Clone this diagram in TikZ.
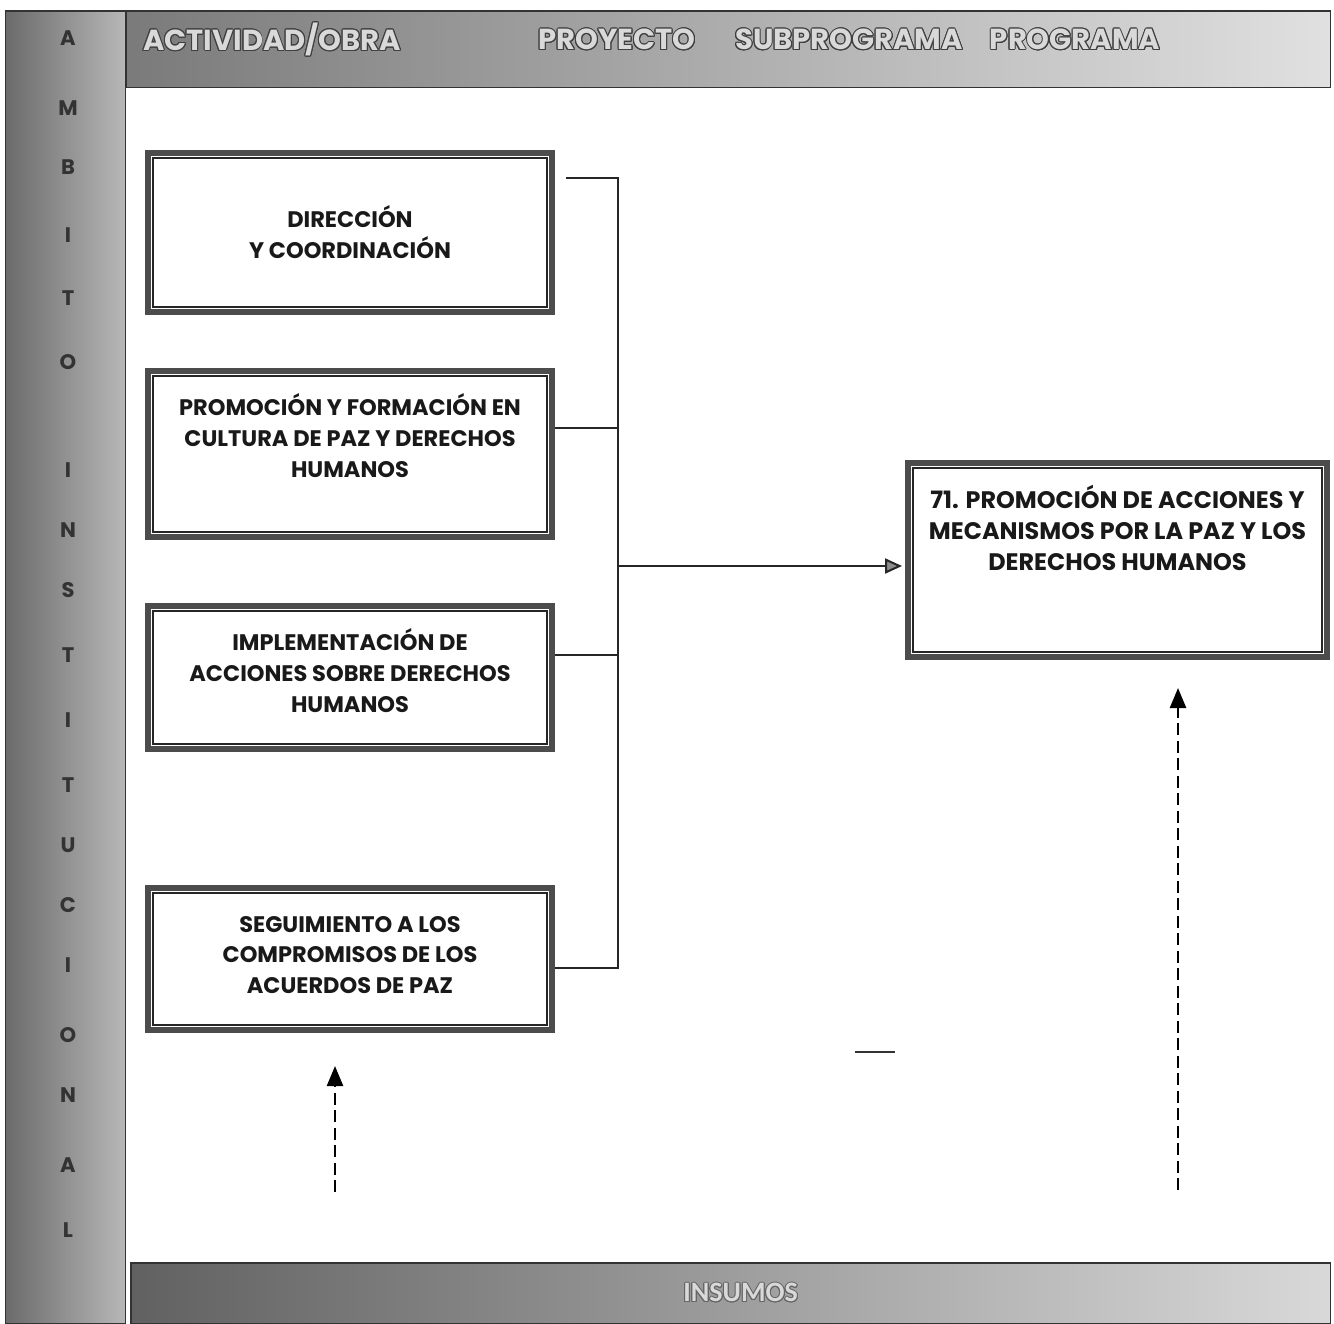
\documentclass[tikz,border=0pt]{standalone}
\usepackage{fontspec}
\setmainfont{Poppins}
\newfontfamily\calfont{Carlito}
\usepackage{contour}
\contourlength{0.55pt}
\usetikzlibrary{arrows.meta}

\begin{document}
\begin{tikzpicture}[x=0.02cm, y=-0.02cm,
    box/.style={draw=black!70, line width=0.12cm, fill=white, minimum width=8.08cm, inner sep=0pt},
    txt/.style={font=\bfseries\fontsize{12.8}{17.6}\selectfont, align=center, text=black!90},
    bigtxt/.style={txt, font=\bfseries\fontsize{13.6}{17.6}\selectfont},
    link/.style={draw=black!85, line width=0.04cm},
    dasharrow/.style={draw=black, line width=0.05cm, dash pattern=on 0.24cm off 0.11cm, -{Triangle[length=0.4cm, width=0.32cm]}},
    sideletter/.style={font=\bfseries\fontsize{12}{14}\selectfont, text=black!80},
    headword/.style={font=\bfseries\fontsize{16.5}{20}\selectfont, text=white!85!black}]
    \useasboundingbox (0,0) rectangle (1334,1323);

    % bands
    \node[draw=black!80, line width=0.03cm, left color=black!58, right color=black!28, minimum width=2.4cm, minimum height=26.26cm, anchor=north west, inner sep=0pt] (ambito) at (5,10) {};
    \node[draw=black!80, line width=0.03cm, left color=black!52, right color=black!12, minimum width=24.1cm, minimum height=1.54cm, anchor=north west, inner sep=0pt] (header) at (125,10) {};
    \node[draw=black!80, line width=0.03cm, left color=black!62, right color=black!15, minimum width=24cm, minimum height=1.22cm, anchor=north west, inner sep=0pt, font=\calfont\bfseries\fontsize{16}{18}\selectfont, text=white!85!black] (insumos) at (130,1262) {\hspace*{0.4cm}\contour{black!60}{INSUMOS}};

    \node[headword] (hact) at (272,40) {\contour{black!75}{ACTIVIDAD/OBRA}};
    \node[headword] (hproy) at (617,40) {\contour{black!75}{PROYECTO}};
    \node[headword] (hsub) at (849,40) {\contour{black!75}{SUBPROGRAMA}};
    \node[headword] (hprog) at (1075,40) {\contour{black!75}{PROGRAMA}};

    \foreach \l/\y in {A/38, M/108, B/167, I/235, T/298, O/362, I/470, N/530, S/590, T/655, I/720, T/785, U/845, C/905, I/965, O/1035, N/1095, A/1165, L/1230}
        \node[sideletter] (s\y) at (68,\y) {\l};

    % boxes
    \node[box, minimum height=3.18cm, label={[txt]center:{DIRECCIÓN\\Y COORDINACIÓN}}] (dir) at (350,232.5) {};
    \node[box, minimum height=3.32cm, label={[txt, yshift=0.36cm]center:{PROMOCIÓN Y FORMACIÓN EN\\CULTURA DE PAZ Y DERECHOS\\HUMANOS}}] (prom) at (350,454) {};
    \node[box, minimum height=2.86cm, label={[txt, yshift=0.13cm]center:{IMPLEMENTACIÓN DE\\ACCIONES SOBRE DERECHOS\\HUMANOS}}] (impl) at (350,677.5) {};
    \node[box, minimum height=2.84cm, label={[txt, yshift=0.08cm]center:{SEGUIMIENTO A LOS\\COMPROMISOS DE LOS\\ACUERDOS DE PAZ}}] (seg) at (350,959) {};
    \node[box, minimum width=8.38cm, minimum height=3.88cm, label={[bigtxt, yshift=0.64cm]center:{71. PROMOCIÓN DE ACCIONES Y\\MECANISMOS POR LA PAZ Y LOS\\DERECHOS HUMANOS}}] (prog) at (1117.5,560) {};

    \foreach \b in {dir,prom,impl,seg,prog}
        \draw[line width=0.03cm, black!85] ([shift={(8,8)}]\b.north west) rectangle ([shift={(-8,-8)}]\b.south east);

    % connectors
    \coordinate (bustop) at (618,178);
    \coordinate (busbot) at (618,968);
    \coordinate (busmid) at (618,566);
    \draw[link] ([xshift=0.22cm, yshift=1.09cm]dir.east) -| (busbot) -- (seg.east |- busbot);
    \draw[link] ([yshift=0.52cm]prom.east) -| (bustop);
    \draw[link] ([yshift=0.45cm]impl.east) -| (bustop);
    \draw[link, -{Triangle[length=0.34cm, width=0.3cm, fill=black!45]}] (busmid) -- ([xshift=-0.06cm]prog.west |- busmid);

    \coordinate (in1) at (335,1192);
    \coordinate (in1top) at (335,1066);
    \coordinate (in2) at (1178,1190);
    \coordinate (in2top) at (1178,688);
    \draw[dasharrow] (in1) -- (in1top);
    \draw[dasharrow] (in2) -- (in2top);

    \draw[line width=0.05cm, black!80] (855,1052) -- (895,1052);
\end{tikzpicture}
\end{document}
